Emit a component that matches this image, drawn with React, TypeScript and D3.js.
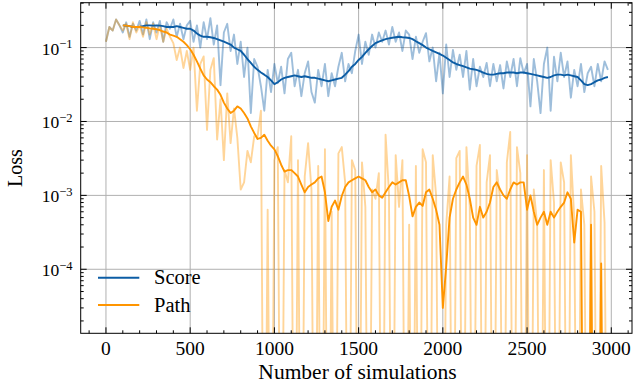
import React, { useEffect, useRef } from "react";
import * as d3 from "d3";

// loss logged every 20 simulations
const simulations = d3.range(0, 3000, 20);

const scoreRaw = [
  0.12, 0.19, 0.17, 0.24, 0.2,
  0.16, 0.22, 0.14, 0.21, 0.17,
  0.23, 0.15, 0.24, 0.13, 0.22,
  0.16, 0.23, 0.12, 0.22, 0.18,
  0.24, 0.14, 0.21, 0.13, 0.2,
  0.23, 0.12, 0.2, 0.1, 0.22,
  0.13, 0.25, 0.11, 0.2, 0.031,
  0.16, 0.21, 0.09, 0.15, 0.06,
  0.12, 0.04, 0.1, 0.013, 0.07,
  0.055, 0.03, 0.014, 0.05, 0.025,
  0.06, 0.033, 0.055, 0.024, 0.07,
  0.085, 0.03, 0.05, 0.022, 0.045,
  0.065, 0.025, 0.018, 0.05, 0.03,
  0.06, 0.022, 0.045, 0.03, 0.055,
  0.085, 0.035, 0.06, 0.045, 0.09,
  0.15, 0.06, 0.12, 0.08, 0.15,
  0.1, 0.16, 0.12, 0.17, 0.11,
  0.19, 0.12, 0.16, 0.09, 0.17,
  0.15, 0.07, 0.14, 0.085, 0.12,
  0.157, 0.065, 0.1, 0.035, 0.085,
  0.024, 0.11, 0.04, 0.093, 0.05,
  0.08, 0.04, 0.09, 0.027, 0.07,
  0.03, 0.055, 0.04, 0.062, 0.03,
  0.06, 0.035, 0.058, 0.028, 0.065,
  0.04, 0.07, 0.03, 0.072, 0.045,
  0.06, 0.016, 0.07, 0.035, 0.013,
  0.06, 0.1, 0.014, 0.075, 0.035,
  0.085, 0.04, 0.065, 0.021, 0.05,
  0.03, 0.06, 0.025, 0.045, 0.055,
  0.03, 0.06, 0.035, 0.065, 0.05,
];

const scoreSmooth = [
  null, null, null, null, null,
  0.2, 0.198, 0.195, 0.19, 0.19,
  0.19, 0.195, 0.2, 0.2, 0.198,
  0.2, 0.198, 0.195, 0.19, 0.19,
  0.19, 0.195, 0.19, 0.185, 0.18,
  0.18, 0.17, 0.155, 0.145, 0.14,
  0.14, 0.138, 0.135, 0.13, 0.125,
  0.12, 0.115, 0.11, 0.1, 0.095,
  0.09, 0.08, 0.07, 0.062, 0.055,
  0.05, 0.046, 0.043, 0.04, 0.036,
  0.032, 0.034, 0.037, 0.039, 0.04,
  0.041, 0.042, 0.041, 0.04, 0.041,
  0.04, 0.039, 0.039, 0.038, 0.037,
  0.036, 0.035, 0.036, 0.037, 0.038,
  0.039, 0.043, 0.048, 0.055, 0.06,
  0.068, 0.075, 0.085, 0.095, 0.105,
  0.115, 0.12, 0.125, 0.13, 0.133,
  0.136, 0.138, 0.14, 0.138, 0.137,
  0.135, 0.13, 0.122, 0.115, 0.108,
  0.1, 0.095, 0.09, 0.086, 0.082,
  0.078, 0.073, 0.068, 0.063, 0.06,
  0.058, 0.056, 0.054, 0.052, 0.051,
  0.05, 0.048, 0.046, 0.044, 0.043,
  0.043, 0.044, 0.045, 0.045, 0.046,
  0.046, 0.046, 0.045, 0.046, 0.046,
  0.045, 0.044, 0.043, 0.042, 0.041,
  0.04, 0.039, 0.04, 0.042, 0.043,
  0.043, 0.042, 0.043, 0.042, 0.041,
  0.04, 0.036, 0.032, 0.031, 0.032,
  0.034, 0.036, 0.037, 0.039, 0.04,
];

const pathRaw = [
  0.12, 0.19, 0.17, 0.24, 0.2,
  0.17, 0.21, 0.13, 0.22, 0.16,
  0.2, 0.14, 0.22, 0.15, 0.21,
  0.13, 0.2, 0.12, 0.18, 0.14,
  0.115, 0.068, 0.1, 0.053, 0.09,
  0.05, 0.1, 0.014, 0.06, 0.076,
  0.0077, 0.05, 0.072, 0.0057, 0.02,
  0.003, 0.024, 0.0051, 0.015, 0.006,
  0.0012, 0.0015, 0.004, 0.0028, 0.0063,
  0.0063, 0.014, 0, 0.00064, 0,
  0.003, 0.0045, 0, 0.0022, 0.0015,
  0.0063, 0, 0.003, 0, 0.0018,
  0.0051, 0.0012, 0, 0.0025, 0,
  0.0042, 0, 0.0006, 0, 0.0037,
  0.0045, 0.0015, 0, 0.003, 0.0022,
  0, 0.0028, 0.0007, 0, 0.0012,
  0.0009, 0.002, 0, 0.0066, 0.0011,
  0, 0.0035, 0.0007, 0.003, 0,
  0.0004, 0, 0.0025, 0, 0.0042,
  0.0028, 0, 0.0035, 0.001, 0,
  0, 0.0004, 0.0018, 0, 0.0032,
  0.004, 0, 0.0045, 0.0007, 0,
  0.0025, 0.0048, 0, 0.0015, 0.0035,
  0, 0.0022, 0.0009, 0, 0.0028,
  0.0072, 0, 0.0045, 0.002, 0,
  0.0035, 0, 0.0012, 0.0004, 0,
  0.0022, 0, 0.003, 0.0008, 0,
  0.0028, 0.0015, 0, 0.0035, 0.0005,
  0, 0.0012, 0.0004, 0, 0.0018,
  0.0006, 0, 0.0025, 0.00043, 0,
];

const pathSmooth = [
  null, null, null, null, null,
  0.2, 0.198, 0.195, 0.19, 0.19,
  0.19, 0.188, 0.185, 0.182, 0.18,
  0.177, 0.172, 0.165, 0.16, 0.15,
  0.145, 0.14, 0.13, 0.12, 0.108,
  0.095, 0.08, 0.065, 0.052, 0.042,
  0.037, 0.034, 0.03, 0.027, 0.023,
  0.018, 0.015, 0.013, 0.014, 0.016,
  0.015, 0.013, 0.011, 0.0086, 0.007,
  0.0058, 0.006, 0.0066, 0.0055, 0.0047,
  0.0042, 0.0034, 0.0026, 0.0021, 0.0022,
  0.0022, 0.002, 0.0018, 0.0014, 0.0011,
  0.0013, 0.0014, 0.0015, 0.0017, 0.0018,
  0.0011, 0.00045, 0.0007, 0.00085, 0.00064,
  0.00098, 0.0013, 0.0015, 0.0016, 0.0017,
  0.0018, 0.0017, 0.0016, 0.0013, 0.0011,
  0.0012, 0.001, 0.00093, 0.0011, 0.0013,
  0.0015, 0.0014, 0.0015, 0.0016, 0.0016,
  0.00098, 0.00052, 0.0007, 0.0008, 0.00072,
  0.0011, 0.0012, 0.0009, 0.00064, 0.0004,
  0.00003, 0.00011, 0.0005, 0.0009, 0.0012,
  0.0015, 0.0018, 0.0014, 0.0009, 0.0005,
  0.0004, 0.0007, 0.0005, 0.0006, 0.0008,
  0.0013, 0.0015, 0.0012, 0.001, 0.0009,
  0.0012, 0.0015, 0.0014, 0.0015, 0.0015,
  0.00064, 0.001, 0.0006, 0.0004, 0.0005,
  0.0006, 0.0004, 0.0006, 0.0005, 0.0006,
  0.0007, 0.0008, 0.0011, 0.0009, 0.00023,
  0.00064, 0.0006, 0, 0, 0.0004,
  0, 0, 0.00012, 0, null,
];

const xTicks = [0, 500, 1000, 1500, 2000, 2500, 3000];
const yTickExponents = [-1, -2, -3, -4];
const legendNames = ["Score", "Path"];

const BLUE = "#0C5DA5";
const ORANGE = "#FF9500";
const FONT = "'Liberation Serif', 'DejaVu Serif', serif";

export default function App() {
  const svgRef = useRef(null);

  useEffect(() => {
    const svg = d3.select(svgRef.current);
    const width = 633;
    const height = 390;
    const left = 80.7;
    const right = 632;
    const top = 2.7;
    const bottom = 333.3;

    svg.selectAll("*").remove();

    const x = d3.scaleLinear().domain([-150, 3123]).range([left, right]);
    const y = d3.scaleLog().domain([1.36e-5, 0.405]).range([bottom, top]);

    svg
      .append("defs")
      .append("clipPath")
      .attr("id", "plot-clip")
      .append("rect")
      .attr("x", left)
      .attr("y", top)
      .attr("width", right - left)
      .attr("height", bottom - top);

    // grid
    const grid = svg.append("g").attr("stroke", "#b0b0b0").attr("stroke-width", 1);
    xTicks.forEach((t) => {
      grid.append("line").attr("x1", x(t)).attr("x2", x(t)).attr("y1", top).attr("y2", bottom);
    });
    yTickExponents.forEach((e) => {
      const v = Math.pow(10, e);
      grid.append("line").attr("x1", left).attr("x2", right).attr("y1", y(v)).attr("y2", y(v));
    });

    // non-positive values are clipped like matplotlib does
    const line = d3
      .line()
      .defined((d) => d[1] !== null)
      .x((d) => x(d[0]))
      .y((d) => y(Math.max(d[1], 1e-9)));

    const plot = svg.append("g").attr("clip-path", "url(#plot-clip)");
    const series = [
      { values: scoreRaw, color: BLUE, opacity: 0.4 },
      { values: pathRaw, color: ORANGE, opacity: 0.4 },
      { values: scoreSmooth, color: BLUE, opacity: 1 },
      { values: pathSmooth, color: ORANGE, opacity: 1 },
    ];
    series.forEach((s) => {
      plot
        .append("path")
        .attr("d", line(simulations.map((t, i) => [t, s.values[i]])))
        .attr("fill", "none")
        .attr("stroke", s.color)
        .attr("stroke-opacity", s.opacity)
        .attr("stroke-width", 1.9)
        .attr("stroke-linejoin", "round");
    });

    // frame and inward ticks
    const axes = svg.append("g").attr("stroke", "#000").attr("stroke-width", 1);
    axes
      .append("rect")
      .attr("x", left)
      .attr("y", top)
      .attr("width", right - left)
      .attr("height", bottom - top)
      .attr("fill", "none");

    const xMinor = d3.range(-100, 3123, 100).filter((t) => t % 500 !== 0);
    xTicks.forEach((t) => {
      axes.append("line").attr("x1", x(t)).attr("x2", x(t)).attr("y1", bottom).attr("y2", bottom - 6);
      axes.append("line").attr("x1", x(t)).attr("x2", x(t)).attr("y1", top).attr("y2", top + 6);
    });
    xMinor.forEach((t) => {
      axes.append("line").attr("x1", x(t)).attr("x2", x(t)).attr("y1", bottom).attr("y2", bottom - 3);
      axes.append("line").attr("x1", x(t)).attr("x2", x(t)).attr("y1", top).attr("y2", top + 3);
    });

    const [y0, y1] = y.domain();
    const yMinor = [];
    for (let e = -5; e <= -1; e++) {
      for (let m = 2; m <= 9; m++) {
        const v = m * Math.pow(10, e);
        if (v > y0 && v < y1) yMinor.push(v);
      }
    }
    yTickExponents.forEach((e) => {
      const p = y(Math.pow(10, e));
      axes.append("line").attr("x1", left).attr("x2", left + 6).attr("y1", p).attr("y2", p);
      axes.append("line").attr("x1", right).attr("x2", right - 6).attr("y1", p).attr("y2", p);
    });
    yMinor.forEach((v) => {
      const p = y(v);
      axes.append("line").attr("x1", left).attr("x2", left + 3).attr("y1", p).attr("y2", p);
      axes.append("line").attr("x1", right).attr("x2", right - 3).attr("y1", p).attr("y2", p);
    });

    // tick labels
    const labels = svg.append("g").attr("font-family", FONT).attr("fill", "#000");
    xTicks.forEach((t) => {
      labels
        .append("text")
        .attr("x", x(t))
        .attr("y", 355)
        .attr("text-anchor", "middle")
        .attr("font-size", 19.5)
        .text(t);
    });
    yTickExponents.forEach((e) => {
      const p = y(Math.pow(10, e));
      const txt = labels
        .append("text")
        .attr("x", 72.5)
        .attr("y", p + 7)
        .attr("text-anchor", "end")
        .attr("font-size", 17.5);
      txt.append("tspan").text("10");
      txt
        .append("tspan")
        .attr("font-size", 12.5)
        .attr("dy", -6.7)
        .text("\u2212" + Math.abs(e));
    });

    labels
      .append("text")
      .attr("x", 357.5)
      .attr("y", 379)
      .attr("text-anchor", "middle")
      .attr("font-size", 21.5)
      .text("Number of simulations");
    labels
      .append("text")
      .attr("transform", "translate(22,168) rotate(-90)")
      .attr("text-anchor", "middle")
      .attr("font-size", 20)
      .text("Loss");

    // legend
    const legend = svg.append("g").attr("font-family", FONT);
    [BLUE, ORANGE].forEach((c, i) => {
      const ly = 277.7 + i * 27.3;
      legend
        .append("line")
        .attr("x1", 98)
        .attr("x2", 139.3)
        .attr("y1", ly)
        .attr("y2", ly)
        .attr("stroke", c)
        .attr("stroke-width", 2);
      legend
        .append("text")
        .attr("x", 154)
        .attr("y", ly + 6.5)
        .attr("font-size", 20.5)
        .text(legendNames[i]);
    });

    svg.attr("width", width).attr("height", height);
  }, []);

  return (
    <svg
      ref={svgRef}
      width={633}
      height={390}
      style={{ position: "absolute", left: 0, top: 0, background: "#fff" }}
    />
  );
}
